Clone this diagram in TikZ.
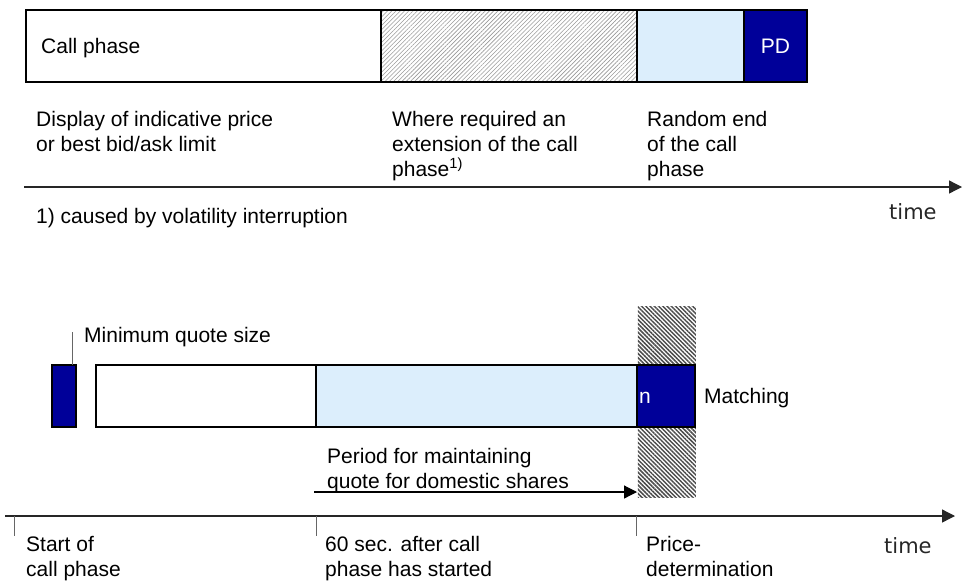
\documentclass[tikz,border=0pt]{standalone}
\usepackage{fontspec}
\setmainfont{Liberation Sans}
\newfontfamily\timefont{DejaVu Sans}
\usepackage{xcolor}
\usepackage{tikz}
\usetikzlibrary{arrows.meta, patterns.meta}

\definecolor{navy}{RGB}{0,0,153}
\definecolor{paleblue}{RGB}{220,238,252}

\begin{document}
\begin{tikzpicture}[x=1pt, y=-1pt,
  font=\fontsize{21}{25}\selectfont,
  seg/.style={draw, line width=1.2pt, rectangle, anchor=north west, inner sep=0pt,
    outer sep=0pt, minimum height=62pt},
  txt/.style={anchor=base west, inner sep=0pt},
  block/.style={anchor=north west, align=left, inner sep=0pt},
  timeaxis/.style={line width=1.3pt, black!85, -{Triangle[length=13pt, width=13pt]}},
  tick/.style={line width=0.9pt, black!60}]
  \useasboundingbox (0,0) rectangle (963,581);

  % upper schedule
  \node[seg, minimum height=72pt, minimum width=355pt] (call) at (26,10) {};
  \node[seg, minimum height=72pt, minimum width=256pt,
    pattern={Lines[angle=45, distance=3pt, line width=0.6pt]}, pattern color=black!40] (ext) at (381,10) {};
  \node[seg, minimum height=72pt, minimum width=107pt, fill=paleblue] (rand) at (637,10) {};
  \node[seg, minimum height=72pt, minimum width=63pt, fill=navy, text=white] (pd) at (744,10) {PD};
  \node[txt] (calltxt) at (41,53) {Call phase};

  \node[block] (disp) at (36,111) {Display of indicative price\\or best bid/ask limit};
  \node[block] (where) at (392,111) {Where required an\\extension of the call\\phase\textsuperscript{1)}};
  \node[block] (randend) at (647,111) {Random end\\of the call\\phase};

  \coordinate (a0) at (24,187);
  \coordinate (a1) at (962,187);
  \draw[timeaxis] (a0) -- (a1);
  \node[txt] (note) at (36,223) {1) caused by volatility interruption};
  \node[txt, font=\timefont\fontsize{21}{25}\selectfont, text=black!85] (time1) at (889,219) {time};

  % lower schedule
  \node[anchor=north west, inner sep=0pt, minimum width=58pt, minimum height=191pt,
    pattern={Lines[angle=-45, distance=3pt, line width=1.5pt]}, pattern color=black!70] (pdcol) at (637,306) {};

  \node[seg, minimum width=24pt, fill=navy] (mqs) at (52,365) {};
  \node[seg, minimum width=220pt] (open) at (96,365) {};
  \node[seg, minimum width=321pt, fill=paleblue] (quote) at (316,365) {};
  \node[seg, minimum width=58pt, fill=navy] (match) at (637,365) {};
  \node[txt, text=white] (ntxt) at (639,403) {n};
  \node[txt] (matchtxt) at (704,403) {Matching};

  \coordinate (lead) at (72,332);
  \draw[line width=0.9pt, black!60] (lead) -- (lead |- mqs.north);
  \node[txt] (mqstxt) at (84,342) {Minimum quote size};

  \node[block] (period) at (327,448) {Period for maintaining\\quote for domestic shares};
  \coordinate (p0) at (314,492);
  \draw[line width=1.2pt, -{Triangle[length=13pt, width=13pt]}] (p0) -- (p0 -| pdcol.west);

  \coordinate (b0) at (5,516);
  \coordinate (b1) at (955,516);
  \draw[timeaxis] (b0) -- (b1);
  \foreach \x/\name in {14/start, 316/sixty, 636/price}
    \draw[tick] (\x,516) coordinate (\name) -- ++(0,20);

  \node[block] (starttxt) at (26,536) {Start of\\call phase};
  \node[block] (sixtytxt) at (325,536) {60 sec. after call\\phase has started};
  \node[block] (pricetxt) at (646,536) {Price-\\determination};
  \node[txt, font=\timefont\fontsize{21}{25}\selectfont, text=black!85] (time2) at (884,553) {time};
\end{tikzpicture}
\end{document}
